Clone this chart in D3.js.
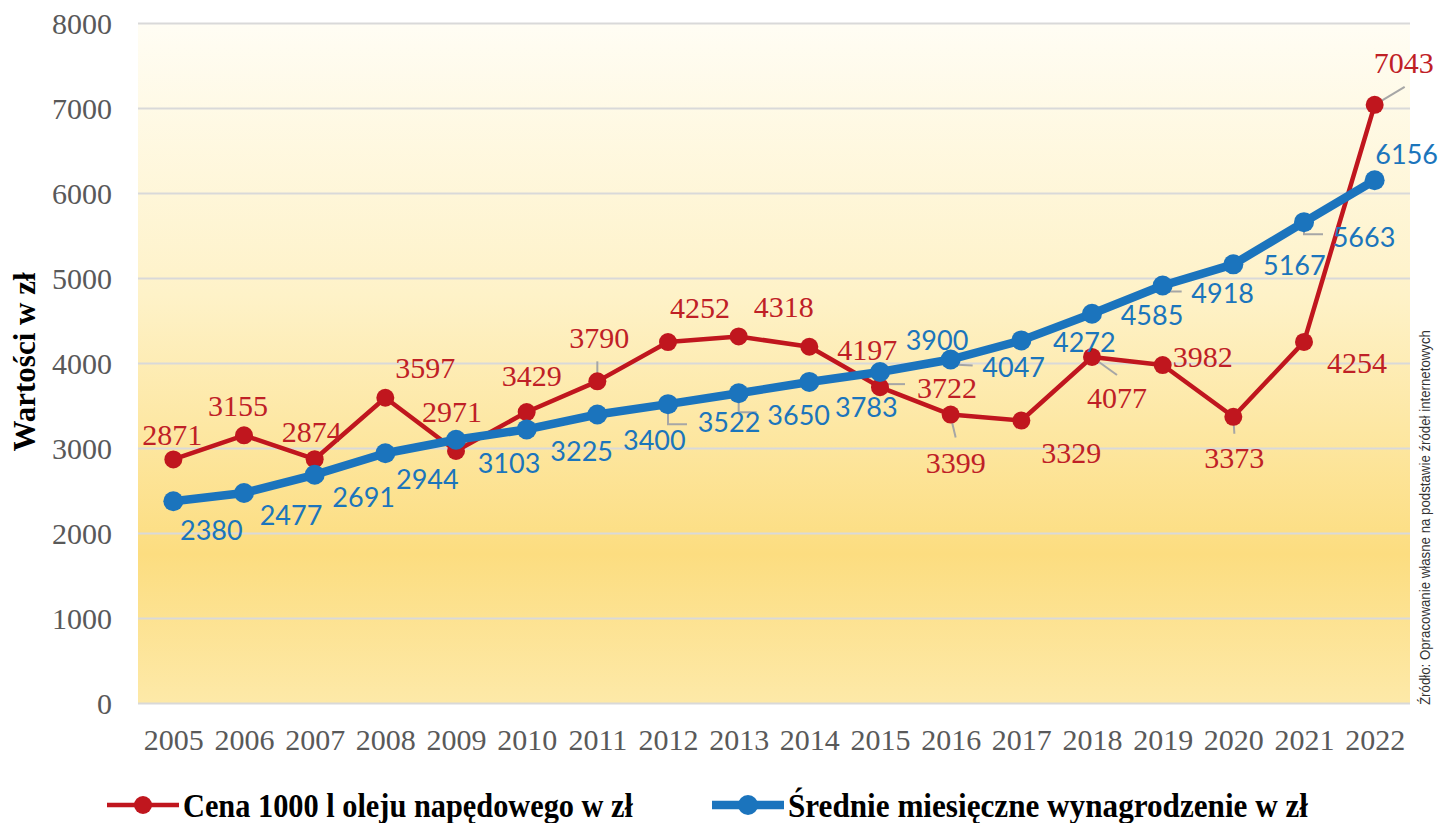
<!DOCTYPE html>
<html>
<head>
<meta charset="utf-8">
<script src="https://cdn.jsdelivr.net/npm/d3@7"></script>
<style>
  body { margin: 0; background: #fff; }
  #chart { width: 1438px; height: 823px; }
</style>
</head>
<body>
<div id="chart"></div>
<script>

// DATA
const years = ["2005", "2006", "2007", "2008", "2009", "2010", "2011", "2012", "2013",
               "2014", "2015", "2016", "2017", "2018", "2019", "2020", "2021", "2022"];
const dieselPrice = [2871, 3155, 2874, 3597, 2971, 3429, 3790, 4252, 4318,
                     4197, 3722, 3399, 3329, 4077, 3982, 3373, 4254, 7043];
const avgWage = [2380, 2477, 2691, 2944, 3103, 3225, 3400, 3522, 3650,
                 3783, 3900, 4047, 4272, 4585, 4918, 5167, 5663, 6156];
const yTicks = [0, 1000, 2000, 3000, 4000, 5000, 6000, 7000, 8000];
const seriesNames = ["Cena 1000 l oleju napędowego w zł", "Średnie miesięczne wynagrodzenie w zł"];
const yTitle = "Wartości w zł";
const sourceNote = "Źródło: Opracowanie własne na podstawie źródeł internetowych";

// label placement (pixel offsets from the point, placed by hand in the original)
const redLabelOffsets = [[-1, -25], [-6, -30], [-3, -28], [40, -30], [-4, -39], [5, -37],
                         [2, -44], [32, -35], [45, -30], [58, 3], [67, 0], [5, 48],
                         [50, 32], [25, 41], [40, -9], [1, 41], [53, 21], [29, -42]];
const blueLabelOffsets = [[38, 28], [47, 22], [49, 22], [42, 25], [53, 23], [55, 21],
                          [57, 25], [61, 17], [60, 21], [57, 25], [57, -33], [63, 7],
                          [63, 1], [60, 1], [60, 7], [61, 0], [60, 14], [32, -27]];
// leader lines: series, point index, polyline offsets
const leaders = [
  { s: 0, i: 4, pts: [[0, -4], [0, -16]] },
  { s: 0, i: 6, pts: [[0, -4], [0, -20]] },
  { s: 1, i: 7, pts: [[0, 0], [0, 20], [19, 20]] },
  { s: 1, i: 8, pts: [[0, 0], [0, 19], [18, 19]] },
  { s: 0, i: 10, pts: [[0, -3], [25, -3]] },
  { s: 1, i: 11, pts: [[2, 5], [22, 6]] },
  { s: 0, i: 11, pts: [[0, 2], [5, 23]] },
  { s: 0, i: 13, pts: [[0, 0], [25, 18]] },
  { s: 1, i: 14, pts: [[0, 0], [0, 6], [19, 6]] },
  { s: 0, i: 15, pts: [[0, 0], [1, 17]] },
  { s: 1, i: 16, pts: [[0, 0], [0, 12], [19, 12]] },
  { s: 0, i: 17, pts: [[0, 0], [30, -18]] }
];

const red = "#c0161e";
const blue = "#1b74bd";

/*
SVG CANVAS
*/
const width = 1438;
const height = 823;
const svg = d3.select("#chart")
    .append("svg")
    .attr("width", width)
    .attr("height", height);

const plot = { left: 138, right: 1410, top: 23.5, bottom: 703.5 };

const x = d3.scalePoint()
    .domain(years)
    .range([plot.left, plot.right])
    .padding(0.5);

const y = d3.scaleLinear()
    .domain([0, 8000])
    .range([plot.bottom, plot.top]);

// background gradient
const grad = svg.append("defs").append("linearGradient")
    .attr("id", "bg")
    .attr("x1", 0).attr("y1", 0).attr("x2", 0).attr("y2", 1);
grad.append("stop").attr("offset", "0%").attr("stop-color", "#fffdf4");
grad.append("stop").attr("offset", "40%").attr("stop-color", "#fef2c8");
grad.append("stop").attr("offset", "78%").attr("stop-color", "#fcdd80");
grad.append("stop").attr("offset", "100%").attr("stop-color", "#fde9a8");

svg.append("rect")
    .attr("x", plot.left)
    .attr("y", plot.top)
    .attr("width", plot.right - plot.left)
    .attr("height", plot.bottom - plot.top)
    .attr("fill", "url(#bg)");

// gridlines
svg.append("g")
    .selectAll("line")
    .data(yTicks)
    .join("line")
    .attr("x1", plot.left)
    .attr("x2", plot.right)
    .attr("y1", d => y(d))
    .attr("y2", d => y(d))
    .attr("stroke", "#d9d9d9")
    .attr("stroke-width", 2);

// AXES
const yAxis = svg.append("g")
    .attr("transform", `translate(${plot.left},0)`)
    .call(d3.axisLeft(y).tickValues(yTicks).tickFormat(d3.format("d")).tickSize(0).tickPadding(26));
yAxis.select(".domain").remove();
yAxis.selectAll("text")
    .attr("font-family", "'Liberation Serif', 'Times New Roman', serif")
    .attr("font-size", 30)
    .attr("fill", "#595959");

const xAxis = svg.append("g")
    .attr("transform", `translate(0,${plot.bottom})`)
    .call(d3.axisBottom(x).tickSize(0).tickPadding(25));
xAxis.select(".domain").remove();
xAxis.selectAll("text")
    .attr("font-family", "'Liberation Serif', 'Times New Roman', serif")
    .attr("font-size", 30)
    .attr("fill", "#595959");

svg.append("text")
    .attr("transform", "translate(35,362) rotate(-90)")
    .attr("text-anchor", "middle")
    .attr("font-family", "'Liberation Serif', 'Times New Roman', serif")
    .attr("font-weight", "bold")
    .attr("font-size", 31)
    .attr("fill", "#000")
    .text(yTitle);

// source note on the right edge
svg.append("text")
    .attr("transform", "translate(1430,705) rotate(-90)")
    .attr("text-anchor", "start")
    .attr("font-family", "'Liberation Sans', Arial, sans-serif")
    .attr("font-size", 14)
    .attr("fill", "#333")
    .attr("textLength", 375)
    .attr("lengthAdjust", "spacingAndGlyphs")
    .text(sourceNote);

// LINES
const series = [
  { values: dieselPrice, color: red, lw: 4.5, r: 9 },
  { values: avgWage, color: blue, lw: 8.5, r: 10 }
];

const line = d3.line()
    .x((d, i) => x(years[i]))
    .y(d => y(d));

const leaderLine = d3.line();

// leader lines under the markers
svg.append("g")
    .selectAll("path")
    .data(leaders)
    .join("path")
    .attr("d", d => {
      const px = x(years[d.i]);
      const py = y(series[d.s].values[d.i]);
      return leaderLine(d.pts.map(p => [px + p[0], py + p[1]]));
    })
    .attr("fill", "none")
    .attr("stroke", "#a6a6a6")
    .attr("stroke-width", 2);

series.forEach(function(s) {
  const g = svg.append("g");
  g.append("path")
      .datum(s.values)
      .attr("d", line)
      .attr("fill", "none")
      .attr("stroke", s.color)
      .attr("stroke-width", s.lw)
      .attr("stroke-linejoin", "round");
  g.selectAll("circle")
      .data(s.values)
      .join("circle")
      .attr("cx", (d, i) => x(years[i]))
      .attr("cy", d => y(d))
      .attr("r", s.r)
      .attr("fill", s.color);
});

// DATA LABELS
svg.append("g")
    .attr("font-family", "'Liberation Serif', 'Times New Roman', serif")
    .attr("font-size", 30)
    .attr("fill", "#bf2026")
    .attr("text-anchor", "middle")
    .attr("dominant-baseline", "central")
    .selectAll("text")
    .data(dieselPrice)
    .join("text")
    .attr("x", (d, i) => x(years[i]) + redLabelOffsets[i][0])
    .attr("y", (d, i) => y(d) + redLabelOffsets[i][1])
    .text(d => d);

svg.append("g")
    .attr("font-family", "Lato, 'Open Sans', sans-serif")
    .attr("font-size", 27)
    .attr("fill", "#1b75bc")
    .attr("text-anchor", "middle")
    .attr("dominant-baseline", "central")
    .selectAll("text")
    .data(avgWage)
    .join("text")
    .attr("x", (d, i) => x(years[i]) + blueLabelOffsets[i][0])
    .attr("y", (d, i) => y(d) + blueLabelOffsets[i][1])
    .text(d => d);

// LEGEND
const legendItems = [
  { name: seriesNames[0], color: red, lw: 4.5, r: 9, x0: 107, len: 450 },
  { name: seriesNames[1], color: blue, lw: 8.5, r: 10, x0: 712, len: 520 }
];
const legend = svg.append("g")
    .selectAll("g")
    .data(legendItems)
    .join("g")
    .attr("transform", d => `translate(${d.x0},805)`);
legend.append("line")
    .attr("x1", 0).attr("x2", 72)
    .attr("stroke", d => d.color)
    .attr("stroke-width", d => d.lw);
legend.append("circle")
    .attr("cx", 36)
    .attr("r", d => d.r)
    .attr("fill", d => d.color);
legend.append("text")
    .attr("x", 76)
    .attr("dy", "0.34em")
    .attr("font-family", "'Liberation Serif', 'Times New Roman', serif")
    .attr("font-weight", "bold")
    .attr("font-size", 34)
    .attr("textLength", d => d.len)
    .attr("lengthAdjust", "spacingAndGlyphs")
    .text(d => d.name);

</script>
</body>
</html>
